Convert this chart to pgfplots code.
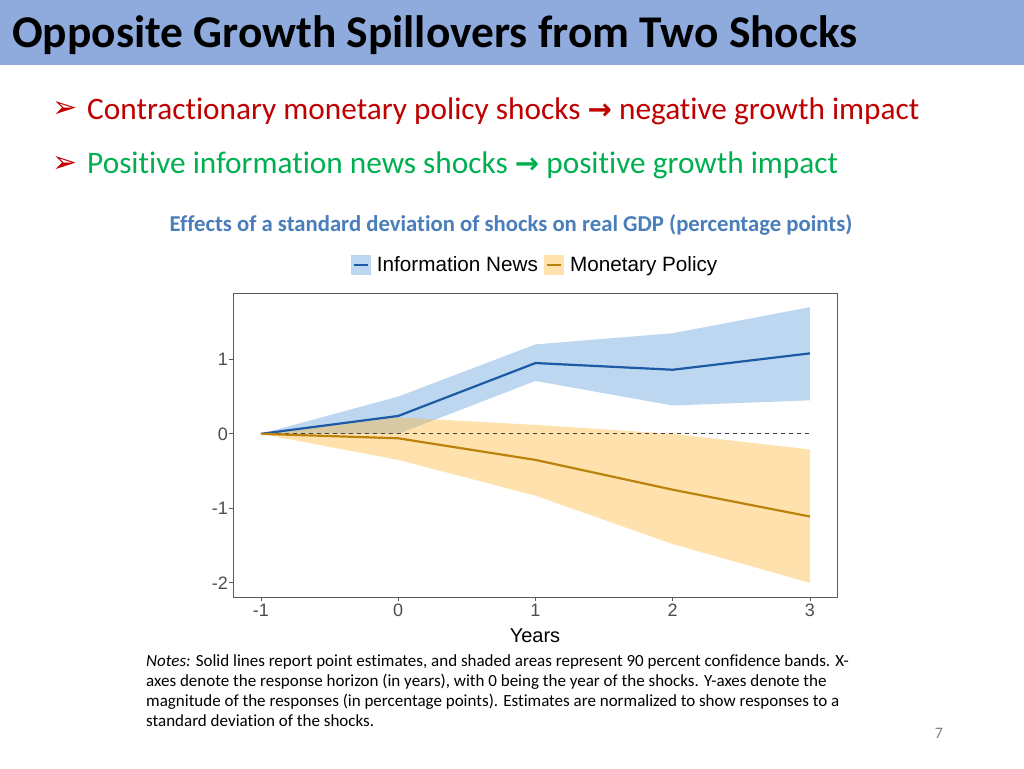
\documentclass[border=0pt]{standalone}
\usepackage{pgfplots}
\pgfplotsset{compat=1.18}
\usepackage{fontspec}
\setmainfont{Carlito}[Ligatures=NoCommon]
\newfontfamily\arial{Liberation Sans}
\newfontfamily\dejavu{DejaVu Sans}
\definecolor{titlebar}{RGB}{143,170,220}
\definecolor{bulletred}{RGB}{192,0,0}
\definecolor{bulletgreen}{RGB}{0,176,80}
\definecolor{subblue}{RGB}{74,126,187}
\definecolor{bandblue}{RGB}{189,215,240}
\definecolor{bandorange}{RGB}{255,182,50}
\definecolor{legorange}{RGB}{255,226,173}
\definecolor{lineblue}{RGB}{28,90,166}
\definecolor{lineorange}{RGB}{188,130,12}
\definecolor{labelgray}{RGB}{77,77,77}
\definecolor{framegray}{RGB}{90,90,90}
\begin{document}
\begin{tikzpicture}
\fill[white] (0,0) rectangle (1024pt,-768pt);
\fill[titlebar] (0,0) rectangle (1024pt,-65pt);
\node[anchor=base west, inner sep=0, font=\fontsize{45.4}{48}\selectfont\bfseries] at (12pt,-48pt) {Opposite Growth Spillovers from Two Shocks};
% bullets
\node[anchor=center, inner sep=0, text=bulletred, font=\dejavu\fontsize{30}{32}\selectfont] at (65pt,-110pt) {➢};
\node[anchor=center, inner sep=0, text=bulletred, font=\dejavu\fontsize{30}{32}\selectfont] at (65pt,-164pt) {➢};
\node[anchor=base west, inner sep=0, text=bulletred, font=\fontsize{31.3}{34}\selectfont] at (87pt,-119pt) {Contractionary monetary policy shocks {\dejavu\bfseries\fontsize{29}{30}\selectfont →} negative growth impact};
\node[anchor=base west, inner sep=0, text=bulletgreen, font=\fontsize{31.3}{34}\selectfont] at (87pt,-173pt) {Positive information news shocks {\dejavu\bfseries\fontsize{29}{30}\selectfont →} positive growth impact};
% subtitle
\node[anchor=base, inner sep=0, text=subblue, font=\fontsize{22.7}{26}\selectfont\bfseries] at (511pt,-231pt) {Effects of a standard deviation of shocks on real GDP (percentage points)};
\begin{axis}[
  at={(233pt,-293pt)}, anchor=north west,
  width=604pt, height=304pt, scale only axis,
  xmin=-1.204, xmax=3.197, ymin=-2.19, ymax=1.89,
  xtick={-1,0,1,2,3}, xticklabels={-1,0,1,2,3},
  ytick={-2,-1,0,1}, yticklabels={-2,-1,0,1},
  tick align=outside, tick pos=left,
  major tick length=4pt,
  axis line style={framegray, line width=0.8pt},
  every tick/.style={framegray, line width=0.8pt},
  tick label style={font=\arial\fontsize{18}{20}\selectfont, text=labelgray},
  yticklabel style={inner sep=1pt},
  xticklabel style={inner sep=1pt, yshift=-2pt},
  xlabel={Years},
  xlabel style={font=\arial\fontsize{20}{22}\selectfont, inner sep=1pt, yshift=-10pt},
  legend columns=2,
  legend style={at={(0.5,1.092)}, anchor=center, draw=none, fill=none,
    font=\arial\fontsize{20.7}{22}\selectfont, column sep=4pt, inner sep=0pt},
  legend cell align=left,
]
\addplot[fill=bandblue, draw=none, forget plot] coordinates {
  (-1,0) (0,0.50) (1,1.20) (2,1.35) (3,1.70)
  (3,0.45) (2,0.38) (1,0.71) (0,0.00) (-1,0)} -- cycle;
\addplot[fill=bandorange, fill opacity=0.4, draw=none, forget plot] coordinates {
  (-1,0) (0,0.22) (1,0.12) (2,0.00) (3,-0.21)
  (3,-2.00) (2,-1.48) (1,-0.83) (0,-0.35) (-1,0)} -- cycle;
\addplot[black!75, line width=1pt, dash pattern=on 4pt off 4pt, forget plot] coordinates {(-1,0) (3,0)};
\addplot[lineblue, line width=2.2pt,
  legend image code/.code={\fill[bandblue] (0pt,-9pt) rectangle (18pt,9pt); \draw[lineblue, line width=2.2pt] (2pt,0pt) -- (16pt,0pt);}]
  coordinates {(-1,0) (0,0.24) (1,0.95) (2,0.86) (3,1.08)};
\addlegendentry{Information News}
\addplot[lineorange, line width=2.2pt,
  legend image code/.code={\fill[legorange] (0pt,-9pt) rectangle (18pt,9pt); \draw[lineorange, line width=2.2pt] (2pt,0pt) -- (16pt,0pt);}]
  coordinates {(-1,0) (0,-0.06) (1,-0.35) (2,-0.75) (3,-1.11)};
\addlegendentry{Monetary Policy}
\end{axis}
% notes
\begin{scope}[every node/.style={anchor=base west, inner sep=0, font=\fontsize{17}{19}\selectfont}]
\node at (146pt,-666pt) {\textit{Notes:} Solid lines report point estimates, and shaded areas represent 90 percent confidence bands. X-};
\node at (146pt,-686pt) {axes denote the response horizon (in years), with 0 being the year of the shocks. Y-axes denote the};
\node at (146pt,-706pt) {magnitude of the responses (in percentage points). Estimates are normalized to show responses to a};
\node at (146pt,-726pt) {standard deviation of the shocks.};
\end{scope}
\node[anchor=base, inner sep=0, text=gray, font=\fontsize{16}{18}\selectfont] at (939pt,-738pt) {7};
\end{tikzpicture}
\end{document}
